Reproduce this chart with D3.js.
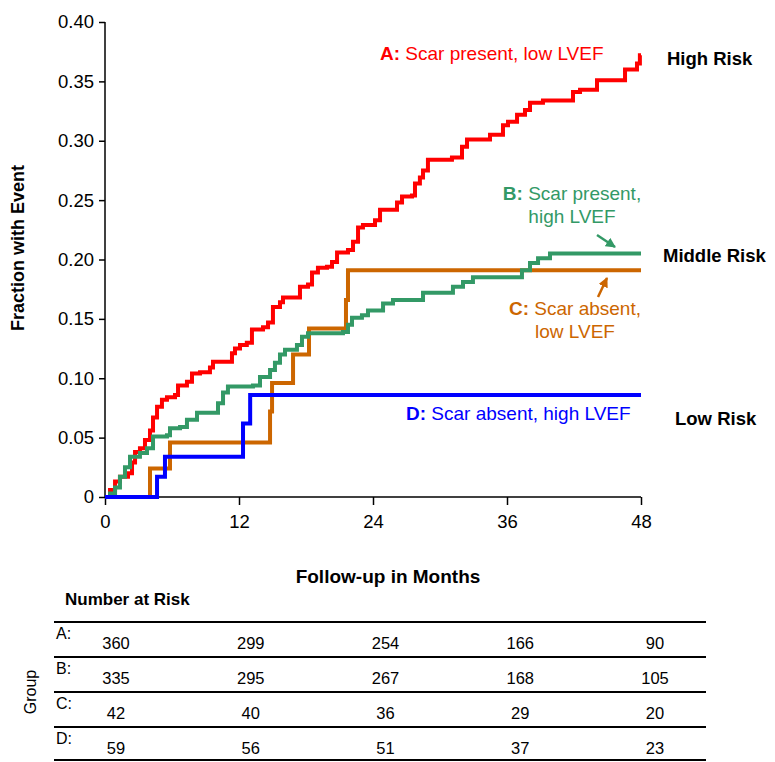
<!DOCTYPE html>
<head>
  <meta charset="utf-8">
  <script src="https://d3js.org/d3.v7.min.js"></script>
  <style>
    body { margin:0; background:#fff; }
    text { font-family: "Liberation Sans", Arial, sans-serif; }
  </style>
</head>
<body>
<script>
// axis ticks
var monthTicks = [0, 12, 24, 36, 48];
var fracTicks = [0, 0.05, 0.10, 0.15, 0.20, 0.25, 0.30, 0.35, 0.40];
var fracLabels = ["0", "0.05", "0.10", "0.15", "0.20", "0.25", "0.30", "0.35", "0.40"];

// step curves: [month, cumulative fraction after the step]
var groupA = [[0,0],[0.45,0.006],[0.9,0.013],[1.34,0.017],[2.06,0.020],[2.42,0.029],[2.69,0.038],
  [3.13,0.041],[3.58,0.048],[4.03,0.056],[4.30,0.067],[4.66,0.076],[5.10,0.082],[5.55,0.084],
  [6.27,0.086],[6.54,0.094],[7.34,0.097],[7.79,0.104],[8.51,0.105],[9.40,0.109],[9.67,0.114],
  [11.37,0.121],[11.64,0.125],[12.09,0.128],[12.7,0.130],[13.16,0.141],[14.15,0.143],[14.6,0.147],
  [15.04,0.160],[15.67,0.164],[15.94,0.168],[17.46,0.177],[18.18,0.179],[18.54,0.189],[19.07,0.193],
  [19.88,0.194],[20.33,0.198],[20.78,0.206],[21.76,0.208],[22.21,0.215],[22.66,0.227],[23.1,0.229],
  [24.18,0.233],[24.63,0.242],[26.15,0.248],[26.6,0.253],[27.49,0.254],[27.76,0.264],[28.2,0.269],
  [28.48,0.275],[28.92,0.284],[31.07,0.286],[31.97,0.295],[32.42,0.301],[34.48,0.305],[35.64,0.313],
  [36.09,0.316],[36.9,0.322],[37.61,0.326],[38.06,0.332],[39.22,0.334],[41.91,0.341],[42.54,0.343],
  [44.06,0.351],[46.57,0.360],[47.64,0.365],[47.9,0.372],[48,0.372]];
var groupB = [[0,0],[0.45,0.003],[0.9,0.008],[1.34,0.017],[1.79,0.025],[2.24,0.034],[3.13,0.037],
  [3.76,0.041],[4.30,0.051],[5.55,0.052],[5.82,0.058],[6.72,0.059],[7.34,0.065],[8.24,0.071],
  [10.12,0.079],[10.57,0.088],[11.01,0.093],[13.25,0.094],[13.88,0.101],[14.78,0.107],[15.22,0.113],
  [15.67,0.120],[16.12,0.124],[17.19,0.128],[17.64,0.135],[18.18,0.138],[21.31,0.139],[21.76,0.145],
  [22.12,0.151],[23.01,0.153],[23.55,0.157],[24.9,0.163],[25.79,0.166],[28.48,0.172],[31.16,0.177],
  [32.06,0.181],[32.95,0.185],[37.34,0.191],[38.06,0.197],[38.78,0.201],[39.85,0.205],[48,0.205]];
var groupC = [[0,0],[4.03,0.024],[5.82,0.046],[14.78,0.072],[14.96,0.096],[16.84,0.120],
  [18.27,0.142],[21.58,0.166],[21.76,0.191],[48,0.191]];
var groupD = [[0,0],[4.66,0.017],[5.37,0.034],[12.36,0.062],[13.0,0.086],[48,0.086]];

// number at risk table
var groupNames = ["A:", "B:", "C:", "D:"];
var riskA = [360, 299, 254, 166, 90];
var riskB = [335, 295, 267, 168, 105];
var riskC = [42, 40, 36, 29, 20];
var riskD = [59, 56, 51, 37, 23];

var width = 775, height = 762;
var red = "#ff0000", green = "#339966", orange = "#cc6600", blue = "#0000ff";

var svg = d3.select("body").append("svg")
  .attr("width", width).attr("height", height);
svg.append("rect").attr("width", width).attr("height", height).attr("fill", "#fff");

var x = d3.scaleLinear().domain([0, 48]).range([105, 641]);
var y = d3.scaleLinear().domain([0, 0.40]).range([497, 22]);

// axes
var yAxis = d3.axisLeft(y).tickValues(fracTicks)
  .tickFormat(function(d, i) { return fracLabels[i]; })
  .tickSize(6).tickPadding(5);
var gy = svg.append("g").attr("transform", "translate(105,0)").call(yAxis);
gy.select(".domain").attr("stroke-width", 1.5).attr("d", "M0,22V497");
gy.selectAll("line").attr("stroke-width", 1.5);
gy.selectAll("text").attr("font-size", 18.5).attr("fill", "#000")
  .attr("font-family", "Liberation Sans, Arial, sans-serif");

var xAxis = d3.axisBottom(x).tickValues(monthTicks).tickSize(8).tickPadding(10);
var gx = svg.append("g").attr("transform", "translate(0,497)").call(xAxis);
gx.select(".domain").attr("stroke-width", 1.5).attr("d", "M105,0H641");
gx.selectAll("line").attr("stroke-width", 1.5);
gx.selectAll("text").attr("font-size", 18.5).attr("fill", "#000")
  .attr("font-family", "Liberation Sans, Arial, sans-serif");

// curves
var line = d3.line()
  .x(function(d) { return x(d[0]); })
  .y(function(d) { return y(d[1]); })
  .curve(d3.curveStepAfter);

[[groupA, red], [groupC, orange], [groupB, green], [groupD, blue]].forEach(function(s) {
  svg.append("path").datum(s[0])
    .attr("d", line)
    .attr("fill", "none")
    .attr("stroke", s[1])
    .attr("stroke-width", 4)
    .attr("stroke-linejoin", "miter");
});

// axis titles
svg.append("text")
  .attr("transform", "translate(24,248) rotate(-90)")
  .attr("text-anchor", "middle")
  .attr("font-size", 18).attr("font-weight", "bold")
  .text("Fraction with Event");

svg.append("text")
  .attr("x", 388).attr("y", 583)
  .attr("text-anchor", "middle")
  .attr("font-size", 19).attr("font-weight", "bold")
  .text("Follow-up in Months");

// curve labels
function label(xp, yp, key, rest, color, anchor) {
  var t = svg.append("text").attr("x", xp).attr("y", yp)
    .attr("font-size", 19).attr("fill", color)
    .attr("text-anchor", anchor || "start");
  t.append("tspan").attr("font-weight", "bold").text(key);
  t.append("tspan").text(" " + rest);
}
label(380, 60, "A:", "Scar present, low LVEF", red);
label(572, 200, "B:", "Scar present,", green, "middle");
svg.append("text").attr("x", 572).attr("y", 223).attr("text-anchor", "middle")
  .attr("font-size", 19).attr("fill", green).text("high LVEF");
label(575, 315, "C:", "Scar absent,", orange, "middle");
svg.append("text").attr("x", 575).attr("y", 338).attr("text-anchor", "middle")
  .attr("font-size", 19).attr("fill", orange).text("low LVEF");
label(406, 420, "D:", "Scar absent, high LVEF", blue);

// arrows
var defs = svg.append("defs");
[["arrG", green], ["arrO", orange]].forEach(function(a) {
  defs.append("marker").attr("id", a[0])
    .attr("viewBox", "0 0 10 10").attr("refX", 9).attr("refY", 5)
    .attr("markerWidth", 4).attr("markerHeight", 4)
    .attr("markerUnits", "strokeWidth")
    .attr("orient", "auto")
    .append("path").attr("d", "M0,0L10,5L0,10Z").attr("fill", a[1]);
});
svg.append("line").attr("x1", 597).attr("y1", 235).attr("x2", 615).attr("y2", 247)
  .attr("stroke", green).attr("stroke-width", 2.5).attr("marker-end", "url(#arrG)");
svg.append("line").attr("x1", 598).attr("y1", 297).attr("x2", 607).attr("y2", 278)
  .attr("stroke", orange).attr("stroke-width", 2.5).attr("marker-end", "url(#arrO)");

// risk labels
[["High Risk", 667, 65], ["Middle Risk", 663, 262], ["Low Risk", 675, 425]].forEach(function(r) {
  svg.append("text").attr("x", r[1]).attr("y", r[2])
    .attr("font-size", 18.5).attr("font-weight", "bold").text(r[0]);
});

// number at risk table
svg.append("text").attr("x", 65).attr("y", 605)
  .attr("font-size", 17).attr("font-weight", "bold").text("Number at Risk");

var rowY = d3.scaleBand().domain(groupNames).range([622, 762]);
var colX = d3.scaleLinear().domain([0, 48]).range([116, 655]);
var rows = [riskA, riskB, riskC, riskD];

groupNames.forEach(function(g, i) {
  var top = rowY(g);
  svg.append("line").attr("x1", 54).attr("x2", 706).attr("y1", top).attr("y2", top)
    .attr("stroke", "#000").attr("stroke-width", 2);
  svg.append("text").attr("x", 56).attr("y", top + 17)
    .attr("font-size", 16).text(g);
  svg.selectAll(null).data(rows[i]).enter().append("text")
    .attr("x", function(d, j) { return colX(monthTicks[j]); })
    .attr("y", top + 27)
    .attr("text-anchor", "middle")
    .attr("font-size", 16.5)
    .text(function(d) { return d; });
});
svg.append("line").attr("x1", 54).attr("x2", 706).attr("y1", 760).attr("y2", 760)
  .attr("stroke", "#000").attr("stroke-width", 2);

svg.append("text")
  .attr("transform", "translate(36,692) rotate(-90)")
  .attr("text-anchor", "middle")
  .attr("font-size", 16)
  .text("Group");
</script>
</body>
